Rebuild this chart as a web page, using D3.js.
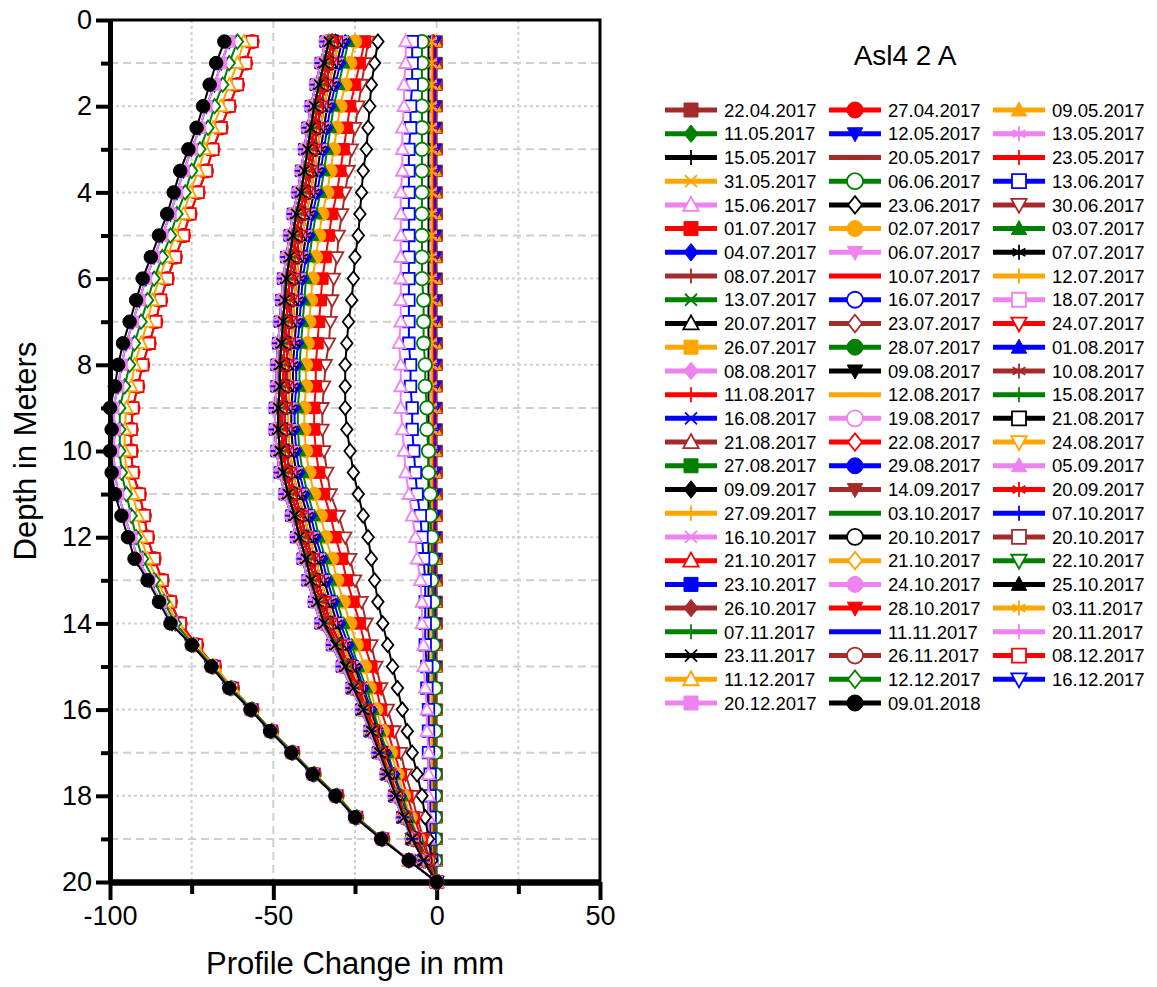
<!DOCTYPE html>
<html>
<head>
<meta charset="utf-8">
<script src="https://cdn.jsdelivr.net/npm/d3@7"></script>
<style>
  body { margin: 0; background: #fff; }
  svg { display: block; }
  text { font-family: "Liberation Sans", Arial, sans-serif; fill: #000; }
</style>
</head>
<body>
<svg id="chart" width="1157" height="987"></svg>
<script>
// Measurement depths (m) shared by every profile
const depths = [0.5,1,1.5,2,2.5,3,3.5,4,4.5,5,5.5,6,6.5,7,7.5,8,8.5,9,9.5,10,
                10.5,11,11.5,12,12.5,13,13.5,14,14.5,15,15.5,16,16.5,17,17.5,18,18.5,19,19.5,20];

// Survey dates, in legend order
const dates = [
  "22.04.2017","27.04.2017","09.05.2017","11.05.2017","12.05.2017","13.05.2017",
  "15.05.2017","20.05.2017","23.05.2017","31.05.2017","06.06.2017","13.06.2017",
  "15.06.2017","23.06.2017","30.06.2017","01.07.2017","02.07.2017","03.07.2017",
  "04.07.2017","06.07.2017","07.07.2017","08.07.2017","10.07.2017","12.07.2017",
  "13.07.2017","16.07.2017","18.07.2017","20.07.2017","23.07.2017","24.07.2017",
  "26.07.2017","28.07.2017","01.08.2017","08.08.2017","09.08.2017","10.08.2017",
  "11.08.2017","12.08.2017","15.08.2017","16.08.2017","19.08.2017","21.08.2017",
  "21.08.2017","22.08.2017","24.08.2017","27.08.2017","29.08.2017","05.09.2017",
  "09.09.2017","14.09.2017","20.09.2017","27.09.2017","03.10.2017","07.10.2017",
  "16.10.2017","20.10.2017","20.10.2017","21.10.2017","21.10.2017","22.10.2017",
  "23.10.2017","24.10.2017","25.10.2017","26.10.2017","28.10.2017","03.11.2017",
  "07.11.2017","11.11.2017","20.11.2017","23.11.2017","26.11.2017","08.12.2017",
  "11.12.2017","12.12.2017","16.12.2017","20.12.2017","09.01.2018"
];

// Profile change (mm) at each depth
const zero     = [0,0,0,0,0,0,0,0,0,0,0,0,0,0,0,0,0,0,0,0,0,0,0,0,0,0,0,0,0,0,0,0,0,0,0,0,0,0,0,0];
const nearA05  = [-0.5,-0.5,-0.5,-0.5,-0.5,-0.5,-0.5,-0.5,-0.5,-0.5,-0.5,-0.5,-0.5,-0.5,-0.5,-0.5,-0.5,-0.5,-0.5,-0.5,-0.5,-0.5,-0.5,-0.5,-0.5,-0.5,-0.5,-0.5,-0.5,-0.5,-0.5,-0.5,-0.5,-0.5,-0.5,-0.5,-0.5,-0.5,-0.5,0];
const nearA1   = [-1,-1,-1,-1,-1,-1,-1,-1,-1,-1,-1,-1,-1,-1,-1,-1,-1,-1,-1,-1,-1,-1,-1,-1,-1,-1,-1,-1,-1,-1,-1,-1,-1,-1,-1,-1,-1,-1,-1,0];
const nearA15  = [-1.5,-1.5,-1.5,-1.5,-1.5,-1.5,-1.5,-1.5,-1.5,-1.5,-1.5,-1.5,-1.5,-1.5,-1.5,-1.5,-1.5,-1.5,-1.5,-1.5,-1.5,-1.5,-1.5,-1.5,-1.5,-1.5,-1.5,-1.5,-1.5,-1.5,-1.5,-1.5,-1.5,-1.5,-1.5,-1.5,-1.5,-1.5,-1.5,0];
const nearA25  = [-2.5,-2.5,-2.5,-2.5,-2.5,-2.5,-2.5,-2.5,-2.5,-2.5,-2.5,-2.5,-2.5,-2.5,-2.5,-2.5,-2.5,-2.5,-2.5,-2.5,-2.5,-2.5,-2.5,-2.5,-2.5,-2.5,-2.5,-2.5,-2.5,-2.5,-2.5,-2.5,-2.5,-2.5,-2.5,-2.5,-2.5,-2.5,-1.5,0];
const green0606  = [-4.5,-4.5,-4.5,-4.5,-4.5,-4.5,-4.5,-4.5,-4.5,-4.5,-4.5,-4.5,-4,-4,-4,-3.5,-3.5,-3,-3,-2.5,-2.5,-2,-2,-1.5,-1.5,-1.5,-1,-1,-1,-1,-0.5,-0.5,-0.5,-0.5,-0.5,-0.5,-0.5,-0.5,-0.5,0];
const blue1306   = [-7.5,-7.5,-7.5,-8,-8,-8.5,-8.5,-8.5,-8.5,-8.5,-8.5,-8.5,-8.5,-8.5,-8.5,-8,-8,-7.5,-7.5,-7,-6.5,-6,-5,-4.5,-4,-3.5,-3.5,-3.5,-3.5,-3,-3,-2.5,-2.5,-2.5,-2,-2,-2,-2,-1.5,0];
const violet1506 = [-9.5,-9.5,-10,-10,-10.5,-10.5,-10.5,-11,-11,-11,-11,-11,-11,-11,-11.5,-11,-11,-11,-10.5,-10,-9.5,-8.5,-7.5,-6.5,-6,-5,-4.5,-4.5,-4,-4,-3.5,-3,-3,-2.5,-2.5,-2.5,-2.5,-2.5,-1.5,0];
const diamond2306 = [-18,-19,-20,-20.5,-21,-21.5,-22.5,-23,-23.5,-24,-25,-25.5,-26,-27,-27.5,-28,-28,-28,-27.5,-26.5,-25.5,-24,-22.5,-21,-20,-19,-18,-16.5,-15,-13.5,-12,-10.5,-9,-7.5,-6,-4.5,-3.5,-2.5,-1.5,0];
const tri3006    = [-21,-22,-23,-24,-25,-26,-27,-28,-29,-30,-30.5,-31.5,-32,-32.5,-33,-34,-34.5,-35,-35,-34.5,-33.5,-32.5,-30,-28,-26.5,-25,-23,-21.5,-20,-18.5,-17,-15,-13,-11,-9.5,-7.5,-6,-4,-2,0];
const mid0  = [-22,-23.5,-25,-26.5,-27.5,-28.5,-29.5,-30.5,-32,-33,-34,-35,-35.5,-36,-36.5,-37,-37,-37.5,-37.5,-37,-36,-34.5,-32.5,-31,-29,-27.5,-25.5,-23.5,-22,-20,-18.5,-17,-15,-13,-11,-9,-7,-4.5,-2.5,0];
const mid3  = [-25,-26.5,-28,-29.5,-30.5,-31.5,-32.5,-33.5,-35,-36,-37,-38,-38.5,-39,-39.5,-40,-40,-40.5,-40.5,-40,-39,-37.5,-35.5,-34,-32,-30.5,-28.5,-26.5,-24.5,-22,-20.5,-18.5,-16.5,-14,-12,-10,-8,-5.5,-3,0];
const mid5  = [-27,-28.5,-30,-31.5,-32.5,-33.5,-34.5,-35.5,-37,-38,-39,-40,-40.5,-41,-41.5,-42,-42,-42.5,-42.5,-42,-41,-39.5,-37.5,-36,-34,-32.5,-30.5,-28.5,-26,-24,-21.5,-19.5,-17.5,-15,-13,-10.5,-8.5,-5.5,-3,0];
const mid6  = [-28,-29.5,-31,-32.5,-33.5,-34.5,-35.5,-36.5,-38,-39,-40,-41,-41.5,-42,-42.5,-43,-43,-43.5,-43.5,-43,-42,-40.5,-38.5,-37,-35,-33.5,-31.5,-29.5,-27,-24.5,-22.5,-20,-18,-15.5,-13,-11,-9,-6,-3.5,0];
const mid7  = [-29,-30.5,-32,-33.5,-34.5,-35.5,-36.5,-37.5,-39,-40,-41,-42,-42.5,-43,-43.5,-44,-44,-44.5,-44.5,-44,-43,-41.5,-39.5,-38,-36,-34.5,-32.5,-30.5,-28,-25,-23,-20.5,-18,-16,-13.5,-11.5,-9,-6.5,-3.5,0];
const mid8  = [-30,-31.5,-33,-34.5,-35.5,-36.5,-37.5,-38.5,-40,-41,-42,-43,-43.5,-44,-44.5,-45,-45,-45.5,-45.5,-45,-44,-42.5,-40.5,-39,-37,-35.5,-33.5,-31.5,-28.5,-26,-23.5,-21,-18.5,-16.5,-14,-11.5,-9.5,-6.5,-3.5,0];
const mid9  = [-31,-32.5,-34,-35.5,-36.5,-37.5,-38.5,-39.5,-41,-42,-43,-44,-44.5,-45,-45.5,-46,-46,-46.5,-46.5,-46,-45,-43.5,-41.5,-40,-38,-36.5,-34.5,-32.5,-29.5,-27,-24,-21.5,-19,-17,-14.5,-12,-9.5,-6.5,-3.5,0];
const mid10 = [-32,-33.5,-35,-36.5,-37.5,-38.5,-39.5,-40.5,-42,-43,-44,-45,-45.5,-46,-46.5,-47,-47,-47.5,-47.5,-47,-46,-44.5,-42.5,-41,-39,-37.5,-35.5,-33.5,-30.5,-27.5,-24.5,-22,-19.5,-17,-15,-12.5,-10,-7,-3.5,0];
const mid11 = [-33,-34.5,-36,-37.5,-38.5,-39.5,-40.5,-41.5,-43,-44,-45,-46,-46.5,-47,-47.5,-48,-48,-48.5,-48.5,-48,-47,-45.5,-43.5,-42,-40,-38.5,-36.5,-34.5,-31,-28,-25.5,-22.5,-20,-17.5,-15,-12.5,-10,-7.5,-4,0];
const mid12 = [-34,-35.5,-37,-38.5,-39.5,-40.5,-41.5,-42.5,-44,-45,-46,-47,-47.5,-48,-48.5,-49,-49,-49.5,-49.5,-49,-48,-46.5,-44.5,-43,-41,-39.5,-37.5,-35.5,-32,-29,-26,-23,-20.5,-18,-15.5,-13,-10.5,-7.5,-4,0];
const left0 = [-56.5,-58.5,-61,-63.5,-66,-68.5,-70.5,-73,-75.5,-77.5,-80,-82.5,-84.5,-86,-88,-90,-91.5,-93,-93.5,-93.5,-93,-91,-89.5,-88.5,-86.5,-84,-81.5,-78.5,-73.5,-68,-62.5,-56.5,-50.5,-44,-37.5,-30.5,-24.5,-16.5,-8.5,0];
const left1 = [-59,-61,-63.5,-66,-68.5,-71,-73,-75.5,-77.5,-80,-82.5,-85,-87,-88.5,-90.5,-92.5,-93.5,-95,-95.5,-95.5,-95,-93,-91.5,-90.5,-88.5,-85.5,-82.5,-79.5,-74,-68,-62.5,-56.5,-50.5,-44,-37.5,-30.5,-24.5,-16.5,-8.5,0];
const left2 = [-61,-63.5,-65.5,-68,-70,-72.5,-75,-77,-79.5,-81.5,-84,-86.5,-88.5,-90.5,-92.5,-94,-95.5,-97,-97,-97,-96.5,-95,-93.5,-92,-90,-86.5,-83.5,-80,-74.5,-68.5,-63,-56.5,-50.5,-44,-37.5,-30.5,-24.5,-16.5,-8.5,0];
const left3 = [-63.5,-66,-68,-70.5,-72.5,-75,-77.5,-79.5,-81.5,-84,-86.5,-89,-91,-93,-95,-96.5,-97.5,-99,-98.5,-99,-98.5,-97.5,-95.5,-93.5,-91.5,-88,-84.5,-81,-75,-69,-63.5,-57,-51,-44.5,-38,-31,-25,-17,-8.5,0];
const leftB = [-65,-67.5,-69.5,-71.5,-73.5,-76,-78.5,-80.5,-82.5,-85,-87.5,-90,-92,-94,-96,-97.5,-98.5,-100,-99.5,-100,-99.5,-98.5,-96.5,-94.5,-92.5,-88.5,-85,-81.5,-75,-69,-63.5,-57,-51,-44.5,-38,-31,-25,-17,-8.5,0];

// Profile measured on each survey date (same order as dates)
const dateProfiles = [
  zero, nearA1, nearA05, nearA1, nearA05, nearA15, nearA25, nearA15, nearA1, nearA15,
  green0606, blue1306, violet1506, diamond2306, tri3006,
  mid0, mid3, mid5, mid6, mid7, mid7, mid8, mid8, mid8, mid9,
  mid9, mid9, mid9, mid10, mid9, mid10, mid10, mid10, mid11, mid10,
  mid11, mid10, mid11, mid10, mid11, mid11, mid10, mid11, mid10, mid11,
  mid11, mid11, mid12, mid11, mid11, mid10, mid11, mid11, mid12, mid12,
  mid11, mid11, mid10, mid11, mid11, mid12, mid12, mid11, mid11, mid10,
  mid11, mid11, mid12, mid12, mid11,
  left0, left0, left1, left2, left3, left3, leftB
];

const xTicksMajor = [-100, -50, 0, 50];
const xTicksMinor = [-75, -25, 25];
const yTicksMajor = [0, 2, 4, 6, 8, 10, 12, 14, 16, 18, 20];
const yTicksMinor = [1, 3, 5, 7, 9, 11, 13, 15, 17, 19];

const colorCycle = ["#a52a2a", "#ff0000", "#ffa500", "#008000", "#0000ff", "#ee82ee", "#000000"];
const markerCycle = ["square", "circle", "triangle", "diamond", "triangleDown",
                     "asterisk", "plus", "hbar", "vbar", "cross",
                     "circleOpen", "squareOpen", "triangleOpen", "diamondOpen", "triangleDownOpen"];

const svg = d3.select("#chart");
const x = d3.scaleLinear().domain([-100, 50]).range([110, 600]);
const y = d3.scaleLinear().domain([0, 20]).range([20, 882]);

// marker outline at size s, centred on the origin
function symbolPath(type, s) {
  const h = s / 2;
  switch (type.replace("Open", "")) {
    case "square": return `M${-h},${-h}H${h}V${h}H${-h}Z`;
    case "circle": return `M${h},0A${h},${h} 0 1,1 ${-h},0A${h},${h} 0 1,1 ${h},0Z`;
    case "triangle": return `M0,${-h * 1.15}L${h * 1.1},${h * 0.85}L${-h * 1.1},${h * 0.85}Z`;
    case "triangleDown": return `M0,${h * 1.15}L${h * 1.1},${-h * 0.85}L${-h * 1.1},${-h * 0.85}Z`;
    case "diamond": return `M0,${-h * 1.25}L${h},0L0,${h * 1.25}L${-h},0Z`;
    case "plus": return `M${-h},0H${h}M0,${-h}V${h}`;
    case "cross": return `M${-h * 0.8},${-h * 0.8}L${h * 0.8},${h * 0.8}M${-h * 0.8},${h * 0.8}L${h * 0.8},${-h * 0.8}`;
    case "asterisk": return `M0,${-h}V${h}M${-h * 0.85},${-h * 0.5}L${h * 0.85},${h * 0.5}M${-h * 0.85},${h * 0.5}L${h * 0.85},${-h * 0.5}`;
    case "hbar": return `M${-h},0H${h}`;
    case "vbar": return `M0,${-h}V${h}`;
  }
  return "";
}
const isLineSymbol = t => ["plus", "cross", "asterisk", "hbar", "vbar"].includes(t);

function drawMarker(sel, type, color, s) {
  const p = sel.append("path").attr("d", symbolPath(type, s));
  if (isLineSymbol(type)) {
    p.attr("fill", "none").attr("stroke", color).attr("stroke-width", 1.8);
  } else if (type.endsWith("Open")) {
    p.attr("fill", "#fff").attr("stroke", color).attr("stroke-width", 1.8);
  } else {
    p.attr("fill", color).attr("stroke", color).attr("stroke-width", 1);
  }
  return p;
}
function markerSize(type, base) {
  if (type.startsWith("circle")) return base + 2;
  if (isLineSymbol(type)) return base + 1;
  return base;
}

// ---- grid ----
const grid = svg.append("g");
grid.selectAll("line.gx").data(xTicksMajor.concat(xTicksMinor).filter(d => d > -100 && d < 50))
  .join("line").attr("class", "gx")
  .attr("x1", d => x(d)).attr("x2", d => x(d)).attr("y1", y(0)).attr("y2", y(20))
  .attr("stroke", "#cfcfcf").attr("stroke-width", 2)
  .attr("stroke-dasharray", d => d % 50 === 0 ? "8,5" : "3,3");
grid.selectAll("line.gy").data(d3.range(1, 20))
  .join("line").attr("class", "gy")
  .attr("x1", x(-100)).attr("x2", x(50)).attr("y1", d => y(d)).attr("y2", d => y(d))
  .attr("stroke", "#cfcfcf").attr("stroke-width", 2)
  .attr("stroke-dasharray", d => d % 2 === 1 ? "8,5" : "3,3");

// ---- axes ----
function styleAxis(g, w) {
  g.select(".domain").attr("stroke", "#000").attr("stroke-width", w);
  g.selectAll(".tick line").attr("stroke", "#000").attr("stroke-width", 4);
  g.selectAll(".tick text").style("font-size", "27px").style("font-family", '"Liberation Sans", Arial, sans-serif');
}
const plainNumber = d => String(d);
svg.append("g").attr("transform", `translate(${x(-100)},0)`)
  .call(d3.axisLeft(y).tickValues(yTicksMinor).tickSize(9).tickSizeOuter(0).tickFormat(""))
  .call(g => styleAxis(g, 5));
svg.append("g").attr("transform", `translate(${x(-100)},0)`)
  .call(d3.axisLeft(y).tickValues(yTicksMajor).tickSize(14).tickSizeOuter(0).tickPadding(4).tickFormat(plainNumber))
  .call(g => styleAxis(g, 5));
svg.append("g").attr("transform", `translate(0,${y(20)})`)
  .call(d3.axisBottom(x).tickValues(xTicksMinor).tickSize(12).tickSizeOuter(0).tickFormat(""))
  .call(g => styleAxis(g, 6));
svg.append("g").attr("transform", `translate(0,${y(20)})`)
  .call(d3.axisBottom(x).tickValues(xTicksMajor).tickSize(18).tickSizeOuter(0).tickPadding(6).tickFormat(plainNumber))
  .call(g => styleAxis(g, 6));
// top and right frame
svg.append("path")
  .attr("d", `M${x(-100)},${y(0)}H${x(50)}V${y(20)}`)
  .attr("fill", "none").attr("stroke", "#000").attr("stroke-width", 3);

// axis titles
svg.append("text").attr("x", (x(-100) + x(50)) / 2).attr("y", 974)
  .attr("text-anchor", "middle").style("font-size", "31px").text("Profile Change in mm");
svg.append("text").attr("transform", `translate(36,${(y(0) + y(20)) / 2}) rotate(-90)`)
  .attr("text-anchor", "middle").style("font-size", "31px").text("Depth in Meters");

// ---- data series ----
const line = d3.line().x(d => x(d.v)).y(d => y(d.d));
const plot = svg.append("g");
dates.forEach((date, i) => {
  const color = colorCycle[i % colorCycle.length];
  const marker = markerCycle[i % markerCycle.length];
  const pts = dateProfiles[i].map((v, j) => ({ v, d: depths[j] }));
  const g = plot.append("g");
  g.append("path").datum(pts).attr("d", line)
    .attr("fill", "none").attr("stroke", color).attr("stroke-width", 2);
  const size = markerSize(marker, 11.5);
  pts.forEach(p => {
    const m = g.append("g").attr("transform", `translate(${x(p.v)},${y(p.d)})`);
    drawMarker(m, marker, color, size);
  });
});

// ---- legend ----
svg.append("text").attr("x", 905).attr("y", 65).attr("text-anchor", "middle")
  .style("font-size", "28px").text("Asl4 2 A");
const legendCols = [665, 829, 993];
const legend = svg.append("g");
dates.forEach((date, i) => {
  const col = i % 3, row = Math.floor(i / 3);
  const lx = legendCols[col], ly = 110 + row * 23.72;
  const color = colorCycle[i % colorCycle.length];
  const marker = markerCycle[i % markerCycle.length];
  const g = legend.append("g");
  g.append("line").attr("x1", lx).attr("x2", lx + 52).attr("y1", ly).attr("y2", ly)
    .attr("stroke", color).attr("stroke-width", 5);
  const m = g.append("g").attr("transform", `translate(${lx + 26},${ly})`);
  drawMarker(m, marker, color, markerSize(marker, 14));
  g.append("text").attr("x", lx + 59).attr("y", ly).attr("dy", "0.36em")
    .style("font-size", "18.5px").text(date);
});
</script>
</body>
</html>
